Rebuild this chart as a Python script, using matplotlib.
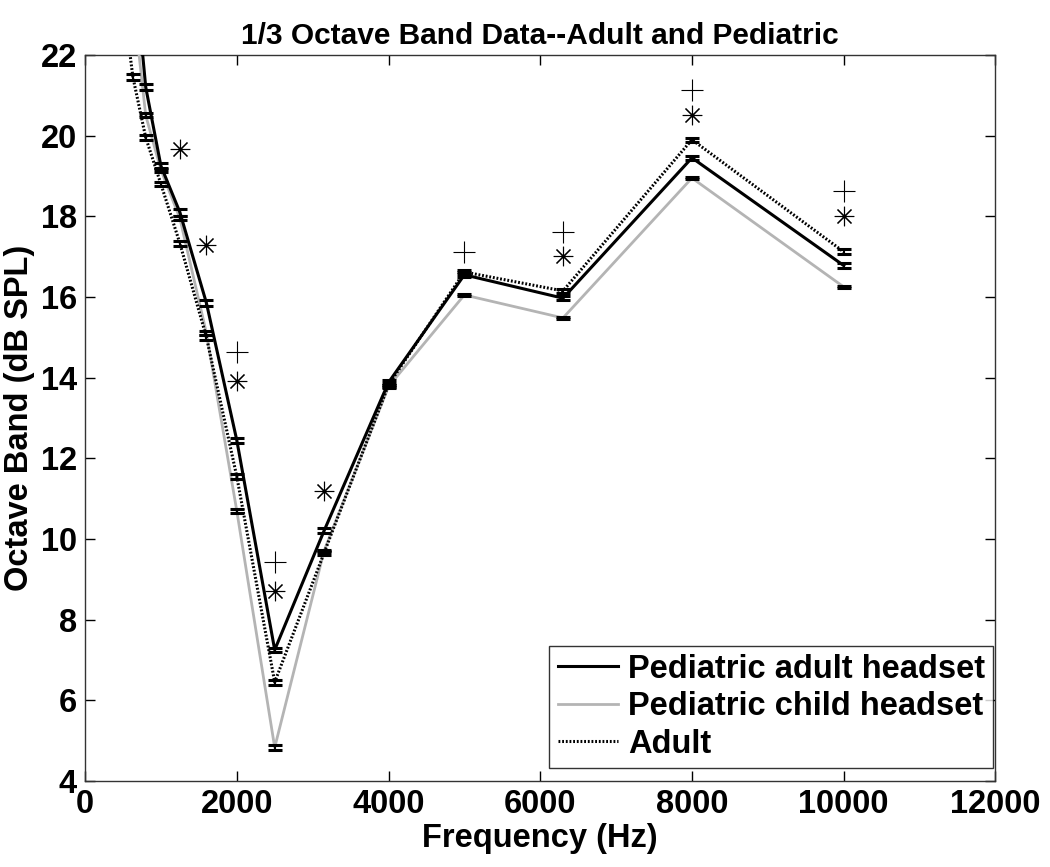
"""1/3 倍频程数据图（成人 vs 儿童）"""

import matplotlib
matplotlib.use("Agg")
import matplotlib.pyplot as plt
import numpy as np

plt.rcParams["font.family"] = ["Liberation Sans", "DejaVu Sans"]
plt.rcParams["font.weight"] = "bold"

# 频率 (Hz)
freqs = [500, 630, 800, 1000, 1250, 1600, 2000, 2500, 3150, 4000, 5000, 6300, 8000, 10000]

# 三组数据 (dB SPL)
ped_adult = [27.0, 24.6, 21.2, 19.25, 18.1, 15.85, 12.45, 7.25, 10.2, 13.88, 16.55, 15.97, 19.45, 16.78]
ped_adult_err = [0.08, 0.08, 0.07, 0.08, 0.08, 0.07, 0.06, 0.05, 0.06, 0.05, 0.06, 0.05, 0.05, 0.05]
ped_child = [25.5, 23.4, 20.5, 19.15, 17.95, 15.1, 10.7, 4.83, 9.7, 13.78, 16.05, 15.48, 18.95, 16.25]
ped_child_err = [0.05, 0.05, 0.05, 0.05, 0.05, 0.05, 0.05, 0.05, 0.03, 0.03, 0.03, 0.03, 0.03, 0.03]
adult = [23.4, 21.46, 19.95, 18.8, 17.33, 15.0, 11.55, 6.45, 9.65, 13.82, 16.62, 16.15, 19.9, 17.12]
adult_err = [0.07, 0.07, 0.07, 0.06, 0.06, 0.06, 0.06, 0.06, 0.04, 0.04, 0.05, 0.05, 0.05, 0.06]

# 显著性标记
star_f = [1250, 1600, 2000, 2500, 3150, 6300, 8000, 10000]
star_v = [19.67, 17.28, 13.92, 8.72, 11.18, 17.02, 20.5, 18.02]
plus_f = [2000, 2500, 5000, 6300, 8000, 10000]
plus_v = [14.64, 9.42, 17.12, 17.62, 21.12, 18.62]

fig = plt.figure(figsize=(10.5, 8.67), dpi=100)
ax = fig.add_axes([0.081, 0.0992, 0.867, 0.8374])

ax.plot(freqs, ped_adult, color="black", lw=2.2, label="Pediatric adult headset", zorder=4)
ax.plot(freqs, ped_child, color="#b4b4b4", lw=2.0, label="Pediatric child headset", zorder=3)
ax.plot(freqs, adult, color="black", lw=2.2, ls=(0, (0.6, 0.6)), label="Adult", zorder=3)

for vals, errs in [(ped_adult, ped_adult_err), (ped_child, ped_child_err), (adult, adult_err)]:
    ax.errorbar(freqs, vals, yerr=errs, fmt="none", ecolor="black",
                elinewidth=1.5, capsize=5, capthick=2.2, zorder=5)

ax.plot(star_f, star_v, ls="none", marker=(8, 2, 0), ms=14, mew=0.8,
        color="black", zorder=6)
ax.plot(plus_f, plus_v, ls="none", marker="+", ms=16, mew=0.8,
        color="black", zorder=6)

ax.set_xlim(0, 12000)
ax.set_ylim(4, 22)
ax.set_xticks(np.arange(0, 12001, 2000))
ax.set_yticks(np.arange(4, 23, 2))
ax.tick_params(direction="in", length=7, width=1, labelsize=23.5,
               top=True, right=True, pad=6)
for s in ax.spines.values():
    s.set_linewidth(1.0)
    s.set_color("#333333")

ax.set_xlabel("Frequency (Hz)", fontsize=23.5, fontweight="bold", labelpad=2)
ax.set_ylabel("Octave Band (dB SPL)", fontsize=23.5, fontweight="bold", labelpad=4)
ax.set_title("1/3 Octave Band Data--Adult and Pediatric", fontsize=21.5,
             fontweight="bold", pad=8)

leg = ax.legend(loc="lower right", fontsize=23.5, frameon=True, fancybox=False,
                edgecolor="black", handlelength=1.85, handletextpad=0.3,
                borderpad=0.25, labelspacing=0.2, borderaxespad=0,
                bbox_to_anchor=(993 / 1050, 1 - 768 / 867),
                bbox_transform=fig.transFigure)
leg.get_frame().set_linewidth(1.0)

fig.savefig("out.png", dpi=100)
plt.close(fig)
